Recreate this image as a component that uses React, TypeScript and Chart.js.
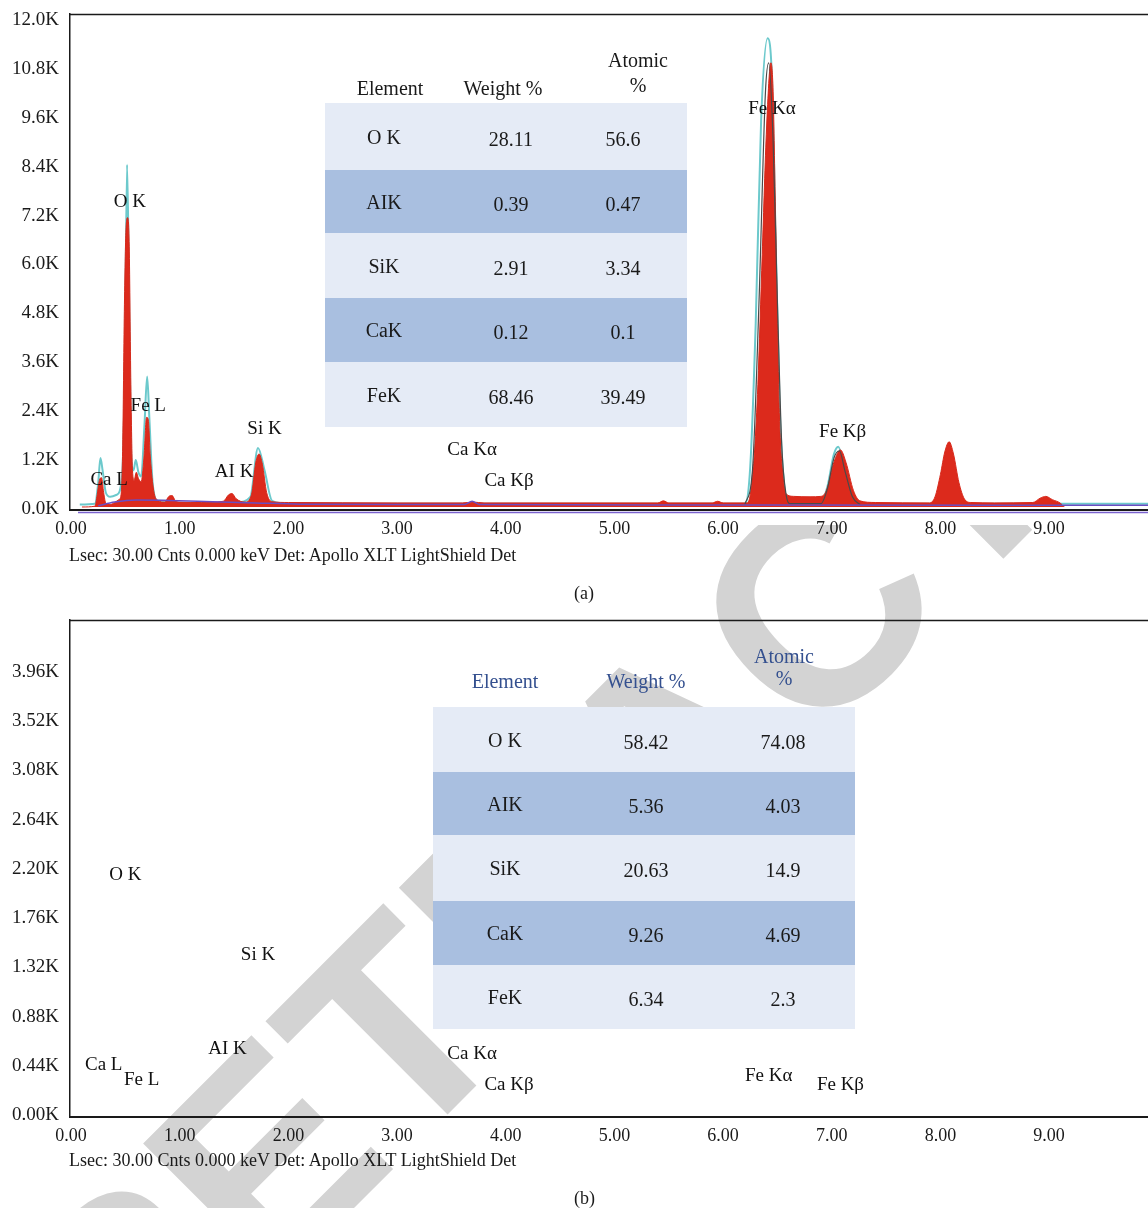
import React, { useEffect, useRef } from "react";
import { Chart, registerables } from "chart.js";

Chart.register(...registerables);

// ===== Panel (a) spectrum: [energy keV, counts] =====
const spectrumA: [number, number][] = [
  [0.10, 0], [0.22, 20], [0.24, 300], [0.26, 650], [0.28, 720], [0.30, 350], [0.32, 90], [0.36, 60],
  [0.40, 110], [0.44, 180], [0.46, 300], [0.475, 1500], [0.49, 4800], [0.505, 6800], [0.52, 7100],
  [0.535, 6400], [0.55, 3000], [0.565, 900], [0.58, 650], [0.60, 850], [0.62, 700], [0.645, 620],
  [0.67, 1200], [0.695, 2200], [0.71, 2150], [0.73, 1200], [0.76, 400], [0.80, 160], [0.86, 120],
  [0.90, 260], [0.93, 280], [0.96, 150], [1.00, 120], [1.20, 110], [1.40, 140], [1.45, 300],
  [1.48, 330], [1.52, 200], [1.60, 120], [1.66, 300], [1.70, 1100], [1.73, 1300], [1.76, 1050],
  [1.80, 350], [1.85, 130], [2.00, 110], [3.00, 100], [3.60, 100], [3.70, 120], [3.80, 100],
  [5.40, 100], [5.45, 150], [5.50, 100], [5.90, 100], [5.95, 140], [6.00, 100], [6.22, 100],
  [6.25, 300], [6.27, 800], [6.29, 1400], [6.32, 3000], [6.36, 6200], [6.40, 9300], [6.44, 10900],
  [6.46, 10200], [6.48, 7500], [6.50, 4500], [6.52, 2100], [6.55, 800], [6.58, 320], [6.65, 260],
  [6.80, 250], [6.90, 260], [6.95, 400], [7.02, 1100], [7.08, 1400], [7.13, 1100], [7.20, 400],
  [7.26, 150], [7.40, 110], [7.90, 100], [7.95, 250], [8.00, 800], [8.04, 1350], [8.08, 1600],
  [8.12, 1300], [8.17, 600], [8.22, 200], [8.28, 110], [8.50, 100], [8.85, 110], [8.92, 220],
  [8.97, 260], [9.03, 180], [9.10, 100], [9.14, 0],
];

// cyan reference trace
const referenceA: [number, number][] = [
  [0.08, 60], [0.22, 80], [0.25, 600], [0.27, 1200], [0.29, 900], [0.32, 350], [0.36, 250],
  [0.42, 300], [0.47, 800], [0.495, 3500], [0.515, 8400], [0.53, 6000], [0.55, 1500], [0.575, 900],
  [0.595, 1150], [0.62, 850], [0.645, 750], [0.675, 2000], [0.70, 3200], [0.72, 2200], [0.75, 600],
  [0.80, 150], [0.90, 150], [1.00, 100], [1.40, 100], [1.47, 260], [1.53, 120], [1.65, 250],
  [1.72, 1450], [1.78, 900], [1.85, 150], [2.00, 80], [6.20, 80], [6.25, 1000], [6.30, 4500],
  [6.35, 9500], [6.41, 11500], [6.45, 10500], [6.48, 7000], [6.52, 2500], [6.56, 600], [6.60, 150],
  [6.90, 120], [6.96, 500], [7.02, 1300], [7.06, 1480], [7.12, 900], [7.20, 200], [7.30, 80],
  [9.91, 80],
];

// dark grey fitted peaks
const fitA: [number, number][] = [
  [6.20, 60], [6.27, 900], [6.33, 5000], [6.39, 10200], [6.42, 10900], [6.46, 9000], [6.50, 5000],
  [6.54, 1500], [6.58, 300], [6.62, 80], [6.90, 80], [6.96, 450], [7.02, 1200], [7.07, 1380],
  [7.12, 900], [7.19, 250], [7.26, 60],
];

// purple background
const backgroundA: [number, number][] = [
  [0.25, 30], [0.40, 120], [0.60, 170], [0.90, 160], [1.30, 130], [1.70, 100], [2.10, 70],
  [3.00, 60], [3.62, 60], [3.69, 140], [3.76, 60], [6.00, 50], [9.91, 40],
];

// ===== Peak labels =====
const peakNames = ["Ca L", "O K", "Fe L", "AI K", "Si K", "Ca Kα", "Ca Kβ", "Fe Kα", "Fe Kβ"];
const labelKeVA = [0.35, 0.54, 0.71, 1.5, 1.78, 3.69, 4.03, 6.45, 7.1];
const labelCountsA = [650, 7480, 2470, 870, 1910, 1400, 630, 9775, 1840];
const labelKeVB = [0.3, 0.5, 0.65, 1.44, 1.72, 3.69, 4.03, 6.42, 7.08];
const labelCountsB = [425, 2125, 292, 575, 1408, 531, 248, 328, 248];

// ===== Tables =====
const tableHeaders = ["Element", "Weight %", "Atomic", "%"];
const elements = ["O K", "AIK", "SiK", "CaK", "FeK"];
const weightA = [28.11, 0.39, 2.91, 0.12, 68.46];
const atomicA = [56.6, 0.47, 3.34, 0.1, 39.49];
const weightB = [58.42, 5.36, 20.63, 9.26, 6.34];
const atomicB = [74.08, 4.03, 14.9, 4.69, 2.3];

// ===== Axes and ticks =====
const xTicksKeV = [0, 1, 2, 3, 4, 5, 6, 7, 8, 9];
const yTicksA = [0, 1200, 2400, 3600, 4800, 6000, 7200, 8400, 9600, 10800, 12000];
const yTicksB = [0, 440, 880, 1320, 1760, 2200, 2640, 3080, 3520, 3960];
const xMinKeV = -0.01;
const xMaxKeV = 9.91;
const yMinA = -74;
const yMaxA = 12098;
const yMinB = -36;
const yMaxB = 4407;
const footerText = "Lsec: 30.00 Cnts 0.000 keV Det: Apollo XLT LightShield Det";

const SERIF = '"Liberation Serif", "Times New Roman", serif';
const INK = "#1a1a1a";

function axes(yMin: number, yMax: number, yTicks: number[], digits: number, xH: number) {
  return {
    x: {
      type: "linear",
      min: xMinKeV,
      max: xMaxKeV,
      afterBuildTicks: (s: any) => { s.ticks = xTicksKeV.map((value) => ({ value })); },
      afterFit: (s: any) => { s.height = xH; },
      grid: { display: false, drawTicks: false },
      border: { display: true, color: INK, width: 2 },
      ticks: {
        autoSkip: false, maxRotation: 0, padding: 8,
        color: INK, font: { family: SERIF, size: 18 },
        callback: (v: any) => Number(v).toFixed(2),
      },
    },
    y: {
      min: yMin,
      max: yMax,
      afterBuildTicks: (s: any) => { s.ticks = yTicks.map((value) => ({ value })); },
      afterFit: (s: any) => { s.width = 70; s.paddingTop = 0; s.paddingBottom = 0; },
      grid: { display: false, drawTicks: false },
      border: { display: true, color: INK, width: 1.5 },
      ticks: {
        autoSkip: false, padding: 11, labelOffset: 2,
        color: INK, font: { family: SERIF, size: 19 },
        callback: (v: any) => (Number(v) / 1000).toFixed(digits) + "K",
      },
    },
  };
}

function framePlugin(opaque: boolean) {
  return {
    id: "frame",
    beforeDraw(chart: any) {
      if (!opaque) return;
      const { ctx, chartArea, width } = chart;
      ctx.save();
      ctx.fillStyle = "#ffffff";
      ctx.fillRect(0, 0, width, chartArea.bottom + 15);
      ctx.restore();
    },
    afterDraw(chart: any) {
      const { ctx, chartArea } = chart;
      ctx.save();
      ctx.strokeStyle = INK;
      ctx.lineWidth = 1.5;
      ctx.beginPath();
      ctx.moveTo(chartArea.left, chartArea.top + 0.5);
      ctx.lineTo(chartArea.right, chartArea.top + 0.5);
      ctx.stroke();
      if (opaque) {
        ctx.strokeStyle = "#7b63cf";
        ctx.lineWidth = 1.5;
        ctx.beginPath();
        ctx.moveTo(chartArea.left + 8, chartArea.bottom + 2.5);
        ctx.lineTo(chartArea.right, chartArea.bottom + 2.5);
        ctx.stroke();
      }
      ctx.restore();
    },
  };
}

function labelPlugin(keVs: number[], counts: number[]) {
  return {
    id: "peakLabels",
    afterDatasetsDraw(chart: any) {
      const { ctx, scales } = chart;
      ctx.save();
      ctx.font = `19px ${SERIF}`;
      ctx.fillStyle = "#111111";
      ctx.textAlign = "center";
      ctx.textBaseline = "middle";
      peakNames.forEach((name, i) => {
        ctx.fillText(name, scales.x.getPixelForValue(keVs[i]), scales.y.getPixelForValue(counts[i]));
      });
      ctx.restore();
    },
  };
}

const pts = (arr: [number, number][]) => arr.map(([x, y]) => ({ x, y }));

function DataTable(props: {
  left: number; width: number; rowTops: number[]; bottom: number; colCenters: number[];
  headCenters: number[]; headerY: number; atomicY: number; headerColor: string; weight: number[]; atomic: number[];
}) {
  const { left, width, rowTops, bottom, colCenters, headCenters, headerY, atomicY, headerColor, weight, atomic } = props;
  const txt = (s: string, cx: number, cy: number, color: string, key: string) => (
    <div key={key} style={{
      position: "absolute", left: cx - 80, top: cy - 12, width: 160, height: 24, lineHeight: "24px",
      textAlign: "center", fontFamily: SERIF, fontSize: 20, color, whiteSpace: "nowrap",
    }}>{s}</div>
  );
  return (
    <>
      {txt(tableHeaders[0], headCenters[0], headerY, headerColor, "h0")}
      {txt(tableHeaders[1], headCenters[1], headerY, headerColor, "h1")}
      {txt(tableHeaders[2], headCenters[2], atomicY, headerColor, "h2")}
      {txt(tableHeaders[3], headCenters[2], headerY - 3, headerColor, "h3")}
      {elements.map((el, i) => {
        const top = rowTops[i];
        const h = (i + 1 < rowTops.length ? rowTops[i + 1] : bottom) - top;
        return (
          <div key={"r" + i} style={{
            position: "absolute", left, top, width, height: h,
            background: i % 2 === 0 ? "#e5ebf6" : "#a9bfe0",
          }} />
        );
      })}
      {elements.map((el, i) => {
        const top = rowTops[i];
        const h = (i + 1 < rowTops.length ? rowTops[i + 1] : bottom) - top;
        const cy = top + h / 2 + 1;
        return [
          txt(el, left + colCenters[0], cy - 1, INK, "e" + i),
          txt(String(weight[i]), left + colCenters[1], cy + 1, INK, "w" + i),
          txt(String(atomic[i]), left + colCenters[2], cy + 1, INK, "a" + i),
        ];
      })}
    </>
  );
}

export default function App() {
  const wmRef = useRef<HTMLCanvasElement>(null);
  const aRef = useRef<HTMLCanvasElement>(null);
  const bRef = useRef<HTMLCanvasElement>(null);

  useEffect(() => {
    // "RETRACTED" watermark behind the figure
    const wm = wmRef.current!;
    const w = wm.getContext("2d")!;
    w.clearRect(0, 0, wm.width, wm.height);
    w.save();
    w.font = 'bold 283px "Liberation Sans", Arial, sans-serif';
    const pre = w.measureText("RE").width;
    const tw = w.measureText("T").width;
    w.translate(462, 1100);
    w.rotate(-Math.PI / 4);
    w.fillStyle = "#d3d3d3";
    w.textBaseline = "alphabetic";
    w.fillText("RETRACTED", -(pre + tw / 2), 0);
    w.restore();

    const chartA = new Chart(aRef.current!, {
      type: "line",
      data: {
        datasets: [
          { label: "background", data: pts(backgroundA), borderColor: "#6a4cc2", borderWidth: 1.5, pointRadius: 0, fill: false, order: 0, cubicInterpolationMode: "monotone" } as any,
          { label: "fit", data: pts(fitA), borderColor: "#4a4a4a", borderWidth: 1.2, pointRadius: 0, fill: false, order: 1, cubicInterpolationMode: "monotone" } as any,
          { label: "spectrum", data: pts(spectrumA), borderColor: "#d8291b", backgroundColor: "#dc2a1c", borderWidth: 1, pointRadius: 0, fill: "origin", order: 2, cubicInterpolationMode: "monotone" } as any,
          { label: "reference", data: pts(referenceA), borderColor: "#6cc9cc", borderWidth: 2, pointRadius: 0, fill: false, order: 3, cubicInterpolationMode: "monotone" } as any,
        ],
      },
      options: {
        responsive: false,
        animation: false,
        events: [],
        layout: { padding: { top: 14, left: 0, right: 0, bottom: 0 } },
        plugins: { legend: { display: false }, tooltip: { enabled: false } },
        scales: axes(yMinA, yMaxA, yTicksA, 1, 35) as any,
      },
      plugins: [framePlugin(true), labelPlugin(labelKeVA, labelCountsA)],
    });

    const chartB = new Chart(bRef.current!, {
      type: "line",
      data: { datasets: [] },
      options: {
        responsive: false,
        animation: false,
        events: [],
        layout: { padding: { top: 20, left: 0, right: 0, bottom: 0 } },
        plugins: { legend: { display: false }, tooltip: { enabled: false } },
        scales: axes(yMinB, yMaxB, yTicksB, 2, 33) as any,
      },
      plugins: [framePlugin(false), labelPlugin(labelKeVB, labelCountsB)],
    });

    return () => {
      chartA.destroy();
      chartB.destroy();
    };
  }, []);

  const textStyle = (left: number, top: number) => ({
    position: "absolute" as const, left, top, fontFamily: SERIF, fontSize: 18, color: INK,
    lineHeight: "20px", whiteSpace: "nowrap" as const,
  });

  return (
    <div style={{ position: "absolute", left: 0, top: 0, width: 1148, height: 1208, overflow: "hidden", background: "#ffffff" }}>
      <canvas ref={wmRef} width={1148} height={1208} style={{ position: "absolute", left: 0, top: 0, zIndex: 0 }} />
      <canvas ref={aRef} width={1148} height={545} style={{ position: "absolute", left: 0, top: 0, zIndex: 1, display: "block" }} />
      <canvas ref={bRef} width={1148} height={550} style={{ position: "absolute", left: 0, top: 600, zIndex: 1, display: "block" }} />
      <div style={{ position: "absolute", left: 0, top: 0, width: 1148, height: 1208, zIndex: 2 }}>
        <DataTable left={325} width={362} rowTops={[103, 170, 233, 298, 362]} bottom={427}
          colCenters={[59, 186, 298]} headCenters={[390, 503, 638]} headerY={88} atomicY={60}
          headerColor={INK} weight={weightA} atomic={atomicA} />
        <DataTable left={433} width={422} rowTops={[707, 772, 835, 901, 965]} bottom={1029}
          colCenters={[72, 213, 350]} headCenters={[505, 646, 784]} headerY={681} atomicY={656}
          headerColor="#34508f" weight={weightB} atomic={atomicB} />
        <div style={textStyle(69, 545)}>{footerText}</div>
        <div style={textStyle(574, 583)}>(a)</div>
        <div style={textStyle(69, 1150)}>{footerText}</div>
        <div style={textStyle(574, 1188)}>(b)</div>
      </div>
    </div>
  );
}
